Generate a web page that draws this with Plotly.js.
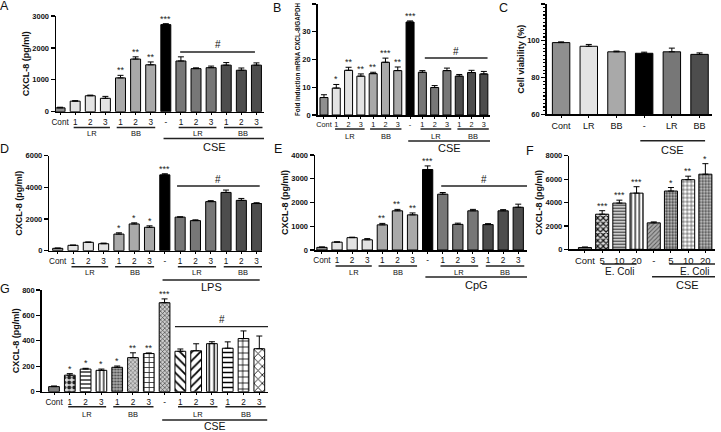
<!DOCTYPE html>
<html>
<head>
<meta charset="utf-8">
<script src="https://cdn.plot.ly/plotly-3.0.1.min.js"></script>
<style>
  html, body { margin: 0; padding: 0; background: #fff; }
  #plot { width: 721px; height: 432px; }
</style>
</head>
<body>
<div id="plot"></div>
<script>
// ---- data ----
// A: CXCL-8 (pg/ml), CSE
const labelsA = ["Cont", "1", "2", "3", "1", "2", "3", "-", "1", "2", "3", "1", "2", "3"];
const valuesA = [120, 330, 500, 420, 1060, 1650, 1470, 2730, 1590, 1350, 1380, 1460, 1300, 1460];
const errorsA = [20, 15, 20, 60, 80, 70, 90, 30, 130, 25, 50, 80, 70, 70];
const starsA = ["", "", "", "", "**", "**", "**", "***", "", "", "", "", "", ""];

// B: fold induction mRNA
const labelsB = labelsA;
const valuesB = [6.3, 9.7, 16.1, 14, 14.9, 19, 16, 33.5, 15.4, 9.9, 16, 14, 15.3, 14.8];
const errorsB = [1, 1.3, 1.1, 0.8, 0.5, 1.5, 1.3, 0.4, 0.6, 0.7, 0.9, 0.6, 0.8, 0.9];
const starsB = ["", "*", "**", "**", "**", "***", "**", "***", "", "", "", "", "", ""];

// C: cell viability (%)
const labelsC = ["Cont", "LR", "BB", "-", "LR", "BB"];
const valuesC = [99, 97, 94, 93.2, 94, 92.6];
const errorsC = [0.4, 1, 0.4, 0.6, 2, 0.8];

// D: LPS
const labelsD = labelsA;
const valuesD = [150, 340, 530, 440, 1050, 1690, 1480, 4790, 2120, 1900, 3100, 3680, 3180, 2980];
const errorsD = [20, 15, 20, 40, 80, 70, 90, 70, 20, 50, 60, 150, 120, 50];
const starsD = ["", "", "", "", "*", "*", "*", "***", "", "", "", "", "", ""];

// E: CpG
const labelsE = labelsA;
const valuesE = [110, 330, 520, 430, 1060, 1650, 1480, 3390, 2350, 1080, 1650, 1070, 1650, 1800];
const errorsE = [20, 15, 20, 50, 60, 60, 80, 150, 70, 50, 60, 40, 50, 130];
const starsE = ["", "", "", "", "**", "**", "**", "***", "", "", "", "", "", ""];

// F: E. Coli doses
const labelsF = ["Cont", "5", "10", "20", "-", "5", "10", "20"];
const valuesF = [150, 3000, 3950, 4800, 2260, 4980, 5950, 6420];
const errorsF = [50, 300, 250, 550, 80, 300, 300, 900];
const starsF = ["", "***", "***", "***", "", "*", "**", "*"];

// G: CSE, patterned
const labelsG = labelsA;
const valuesG = [40, 130, 178, 168, 192, 268, 300, 700, 318, 322, 378, 342, 418, 338];
const errorsG = [5, 12, 6, 10, 10, 38, 5, 30, 18, 55, 15, 50, 60, 100];
const starsG = ["", "*", "*", "*", "*", "**", "**", "***", "", "", "", "", "", ""];

// ---- styles ----
const W = 721, H = 432;
const fx = px => px / W;
const fy = py => 1 - py / H;
const FONT = "Liberation Sans, Arial, sans-serif";

const grey14 = ["#8f8f8f", "#e3e3e3", "#e3e3e3", "#e3e3e3", "#a9a9a9", "#a9a9a9", "#a9a9a9",
  "#000000", "#777777", "#777777", "#777777", "#4d4d4d", "#4d4d4d", "#4d4d4d"];
const greyC = ["#8f8f8f", "#e3e3e3", "#a9a9a9", "#000000", "#777777", "#4d4d4d"];

// one fill per bar: [shape, fg, bg, size, solidity]
const patF = [
  ["", "#8a8a8a", "#8a8a8a", 4, 0.3],
  ["x", "#111111", "#dddddd", 4, 0.5],
  ["-", "#333333", "#dddddd", 3, 0.4],
  ["|", "#222222", "#ffffff", 4, 0.35],
  ["/", "#555555", "#aaaaaa", 3, 0.3],
  [".", "#333333", "#cccccc", 3, 0.45],
  ["+", "#333333", "#ffffff", 4, 0.3],
  [".", "#444444", "#cccccc", 3, 0.45]
];
const patG = [
  ["", "#7f7f7f", "#7f7f7f", 4, 0.3],
  [".", "#222222", "#dddddd", 5, 0.5],
  ["-", "#222222", "#ffffff", 4, 0.35],
  ["|", "#222222", "#ffffff", 4, 0.35],
  [".", "#444444", "#aaaaaa", 3, 0.4],
  ["x", "#555555", "#cccccc", 3, 0.3],
  ["+", "#222222", "#ffffff", 5, 0.3],
  ["x", "#333333", "#cccccc", 3, 0.35],
  ["\\", "#000000", "#ffffff", 6, 0.3],
  ["/", "#000000", "#ffffff", 6, 0.3],
  ["|", "#000000", "#ffffff", 5, 0.3],
  ["-", "#000000", "#ffffff", 5, 0.3],
  ["+", "#000000", "#ffffff", 6, 0.25],
  ["x", "#000000", "#ffffff", 6, 0.25]
];

const data = [];
const layout = {
  width: W, height: H,
  margin: {l: 0, r: 0, t: 0, b: 0},
  paper_bgcolor: "#fff", plot_bgcolor: "rgba(0,0,0,0)",
  font: {family: FONT, color: "#111"},
  showlegend: false, barmode: "overlay",
  shapes: [], annotations: []
};

function panel(n, p) {
  const xa = n === 1 ? "x" : "x" + n;
  const ya = n === 1 ? "y" : "y" + n;
  const idx = p.values.map((v, i) => i);
  const errBar = arr => ({type: "data", symmetric: false, array: arr, arrayminus: arr.map(() => 0),
    color: "#000", thickness: 1, width: 3});

  if (p.pattern) {
    // patterned bars: one trace per bar so every fill gets its own pattern
    p.values.forEach((v, i) => {
      const f = p.pattern[i];
      data.push({
        type: "bar", x: [i], y: [v], xaxis: xa, yaxis: ya, width: p.barWidth,
        marker: {color: f[2], line: {color: "#000", width: 1},
          pattern: {shape: f[0], fgcolor: f[1], bgcolor: f[2], size: f[3], solidity: f[4]}},
        error_y: errBar([p.errors[i]]), hoverinfo: "skip"
      });
    });
  } else {
    data.push({
      type: "bar", x: idx, y: p.values, xaxis: xa, yaxis: ya, width: p.barWidth,
      marker: {color: p.colors, line: {color: "#000", width: 1}},
      error_y: errBar(p.errors), hoverinfo: "skip"
    });
  }

  layout["xaxis" + (n === 1 ? "" : n)] = {
    domain: [fx(p.box[0]), fx(p.box[1])], range: p.xrange, anchor: ya,
    tickmode: "array", tickvals: idx, ticktext: p.labels, tickangle: 0,
    ticks: "outside", ticklen: 2, tickcolor: "#000", tickwidth: 1,
    tickfont: {size: p.xfont || 8.2, family: FONT},
    showline: true, linecolor: "#000", linewidth: 1.5,
    showgrid: false, zeroline: false, fixedrange: true
  };
  const yax = {
    domain: [fy(p.box[3]), fy(p.box[2])], range: p.yrange, anchor: xa, dtick: p.dtick,
    ticks: "outside", ticklen: 4, tickcolor: "#000", tickwidth: 1.2,
    tickfont: {size: 7.5, family: FONT, weight: "bold"},
    showline: true, linecolor: "#000", linewidth: 1.5,
    showgrid: false, zeroline: false, fixedrange: true,
    title: {text: p.ytitle, font: {size: p.ytitleSize || 9, family: FONT, weight: "bold"}, standoff: 1}
  };
  if (p.minor) yax.minor = {dtick: p.minor, ticks: "outside", ticklen: 2, tickcolor: "#000", showgrid: false};
  layout["yaxis" + (n === 1 ? "" : n)] = yax;

  // significance stars
  (p.stars || []).forEach((s, i) => {
    if (!s) return;
    layout.annotations.push({
      xref: xa, yref: ya, x: i, y: p.values[i] + p.errors[i], text: s,
      showarrow: false, yanchor: "bottom", yshift: -2, font: {size: 9, family: FONT, color: "#222"}
    });
  });

  // group underlines and their labels
  (p.groups || []).forEach(g => {
    const lineY = g.main ? p.rows.mainLine : p.rows.subLine;
    const textY = g.main ? p.rows.mainText : p.rows.subText;
    layout.shapes.push({
      type: "line", xref: xa, yref: "paper", x0: g.from, x1: g.to, y0: fy(lineY), y1: fy(lineY),
      line: {color: "#222", width: 1.5}
    });
    layout.annotations.push({
      xref: xa, yref: "paper", x: (g.from + g.to) / 2, y: fy(textY), text: g.label,
      showarrow: false, xanchor: "center", yanchor: "middle",
      font: {size: g.main ? (p.mainSize || 11) : (p.subSize || 7.5), family: FONT, color: "#111"}
    });
  });

  // "#" bracket over treated groups
  if (p.hash) {
    layout.shapes.push({
      type: "line", xref: xa, yref: "paper", x0: p.hash.from, x1: p.hash.to,
      y0: fy(p.hash.y), y1: fy(p.hash.y), line: {color: "#222", width: 1.3}
    });
    layout.annotations.push({
      xref: xa, yref: "paper", x: (p.hash.from + p.hash.to) / 2, y: fy(p.hash.y - 7), text: "#",
      showarrow: false, xanchor: "center", yanchor: "middle", font: {size: 10, family: FONT, color: "#111"}
    });
  }

  // panel letter
  layout.annotations.push({
    xref: "paper", yref: "paper", x: fx(p.letter[1]), y: fy(p.letter[2]), text: p.letter[0],
    showarrow: false, xanchor: "center", yanchor: "middle", font: {size: 12.5, family: FONT, color: "#111"}
  });
}

const std = (main, d) => [
  {label: "LR", from: 0.9, to: 3.3},
  {label: "BB", from: 3.75, to: 6.3},
  {label: main, from: 6.85, to: d || 13.55, main: true},
  {label: "LR", from: 7.85, to: 10.35},
  {label: "BB", from: 10.85, to: 13.4}
];

panel(1, {
  labels: labelsA, values: valuesA, errors: errorsA, stars: starsA, colors: grey14, barWidth: 0.66,
  box: [56, 264, 16, 111.7], xrange: [-0.27, 13.5], yrange: [0, 3000], dtick: 1000,
  ytitle: "CXCL-8 (pg/ml)", groups: std("CSE"),
  rows: {subLine: 127.5, subText: 133, mainLine: 138.5, mainText: 146.5},
  hash: {from: 7.95, to: 12.9, y: 52}, letter: ["A", 4.5, 6]
});
panel(2, {
  labels: labelsB, values: valuesB, errors: errorsB, stars: starsB, colors: grey14, barWidth: 0.65,
  box: [317.7, 490, 4, 115], xrange: [-0.51, 13.5], yrange: [0, 40], dtick: 10,
  ytitle: "Fold induction mRNA CXCL-8/GAPDH", ytitleSize: 6.3, xfont: 7.3,
  groups: std("CSE"),
  rows: {subLine: 129, subText: 136, mainLine: 141, mainText: 148},
  hash: {from: 8.2, to: 13.3, y: 58}, letter: ["B", 276.5, 7.5]
});
panel(3, {
  labels: labelsC, values: valuesC, errors: errorsC, colors: greyC, barWidth: 0.63,
  box: [546.7, 712, 4, 114.3], xrange: [-0.52, 5.45], yrange: [60, 120], dtick: 20, minor: 2,
  ytitle: "Cell viability (%)", xfont: 9,
  groups: [{label: "CSE", from: 2.86, to: 5.2, main: true}],
  rows: {mainLine: 140.7, mainText: 150},
  letter: ["C", 503.7, 8]
});
panel(4, {
  labels: labelsD, values: valuesD, errors: errorsD, stars: starsD, colors: grey14, barWidth: 0.66,
  box: [49.3, 262, 155.7, 250.7], xrange: [-0.55, 13.35], yrange: [0, 6000], dtick: 2000,
  ytitle: "CXCL-8 (pg/ml)", groups: std("LPS", 13.2),
  rows: {subLine: 266.7, subText: 272.7, mainLine: 280, mainText: 287},
  hash: {from: 7.8, to: 13.2, y: 186}, letter: ["D", 4, 149]
});
panel(5, {
  labels: labelsE, values: valuesE, errors: errorsE, stars: starsE, colors: grey14, barWidth: 0.68,
  box: [315, 527, 155, 250], xrange: [-0.46, 13.58], yrange: [0, 4000], dtick: 1000,
  ytitle: "CXCL-8 (pg/ml)", groups: std("CpG", 13.6),
  rows: {subLine: 266, subText: 272, mainLine: 277, mainText: 285},
  hash: {from: 7.9, to: 13.6, y: 186}, letter: ["E", 277.5, 148.5]
});
panel(6, {
  labels: labelsF, values: valuesF, errors: errorsF, stars: starsF, pattern: patF,
  barWidth: 0.76, box: [569.3, 715, 155.7, 249.3], xrange: [-0.91, 7.56], yrange: [0, 8000], dtick: 2000,
  ytitle: "CXCL-8 (pg/ml)", xfont: 9.5, subSize: 10,
  groups: [
    {label: "E. Coli", from: 1, to: 3},
    {label: "CSE", from: 3.9, to: 8, main: true},
    {label: "E. Coli", from: 4.9, to: 7.8}
  ],
  rows: {subLine: 264, subText: 271.7, mainLine: 276.7, mainText: 285},
  letter: ["F", 529.7, 151]
});
panel(7, {
  labels: labelsG, values: valuesG, errors: errorsG, stars: starsG, pattern: patG,
  barWidth: 0.68, box: [41.7, 268, 290, 391.7], xrange: [-0.78, 13.55], yrange: [0, 800], dtick: 200,
  ytitle: "CXCL-8 (pg/ml)", groups: std("CSE", 13.5), mainSize: 10.5,
  rows: {subLine: 406.7, subText: 414, mainLine: 420, mainText: 426},
  hash: {from: 7.66, to: 13.6, y: 326.7}, letter: ["G", 4.5, 288.7]
});

Plotly.newPlot("plot", data, layout, {staticPlot: true, displayModeBar: false});
</script>
</body>
</html>
